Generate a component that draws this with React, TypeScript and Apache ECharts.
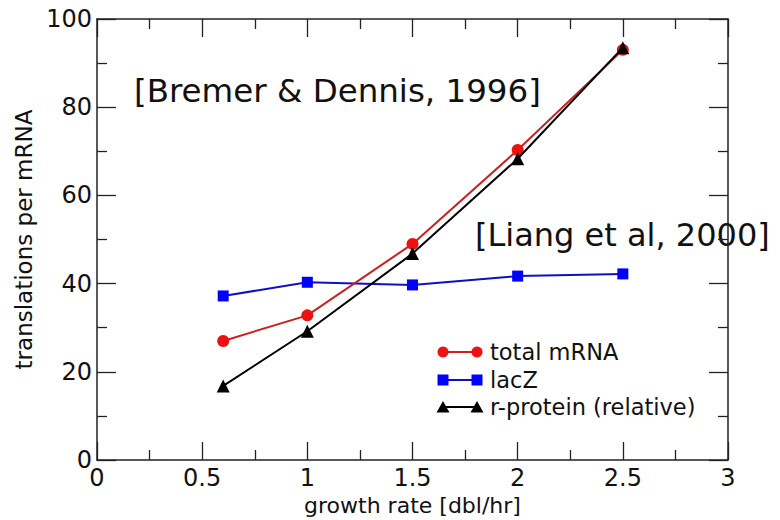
import React, { useEffect, useRef } from "react";
import * as echarts from "echarts";

const growthRate = [0.6, 1.0, 1.5, 2.0, 2.5];
const totalMRNA = [27, 32.8, 49, 70.3, 93];
const lacZ = [37.2, 40.3, 39.7, 41.7, 42.2];
const rProtein = [16.8, 29.2, 46.8, 68.3, 93.5];

const seriesNames = ["total mRNA", "lacZ", "r-protein (relative)"];
const annotations = ["[Bremer & Dennis, 1996]", "[Liang et al, 2000]"];
const xAxisName = "growth rate [dbl/hr]";
const yAxisName = "translations per mRNA";

const FONT = "DejaVu Sans";
const RED = "#ee1111";
const RED_LINE = "#cc1f1f";
const BLUE = "#0000ff";
const BLUE_LINE = "#1010c0";
const BLACK = "#000000";

const toPairs = (ys: number[]) => growthRate.map((x, i) => [x, ys[i]]);

export default function App() {
  const ref = useRef<HTMLDivElement>(null);

  useEffect(() => {
    if (!ref.current) return;
    const chart = echarts.init(ref.current, null, { renderer: "svg" });

    const axisLine = { show: true, onZero: false, lineStyle: { color: "#222", width: 1.5 } };
    const tick = (len: number) => ({ show: true, inside: true, length: len, lineStyle: { color: "#222", width: 1.3 } });
    const minor = { show: true, splitNumber: 2, length: 10, lineStyle: { color: "#222", width: 1.3 } };

    const legendRows = [352, 380, 407];
    const lx1 = 443;
    const lx2 = 477;

    const legendGraphics: any[] = [];
    legendGraphics.push({ type: "line", shape: { x1: lx1, y1: legendRows[0], x2: lx2, y2: legendRows[0] }, style: { stroke: RED_LINE, lineWidth: 2 } });
    [lx1, lx2].forEach((cx) => legendGraphics.push({ type: "circle", shape: { cx, cy: legendRows[0], r: 5.5 }, style: { fill: RED } }));
    legendGraphics.push({ type: "line", shape: { x1: lx1, y1: legendRows[1], x2: lx2, y2: legendRows[1] }, style: { stroke: BLUE_LINE, lineWidth: 2 } });
    [lx1, lx2].forEach((cx) => legendGraphics.push({ type: "rect", shape: { x: cx - 5.5, y: legendRows[1] - 5.5, width: 11, height: 11 }, style: { fill: BLUE } }));
    legendGraphics.push({ type: "line", shape: { x1: lx1, y1: legendRows[2], x2: lx2, y2: legendRows[2] }, style: { stroke: BLACK, lineWidth: 2 } });
    [lx1, lx2].forEach((cx) =>
      legendGraphics.push({
        type: "polygon",
        shape: { points: [[cx - 6.5, legendRows[2] + 5.5], [cx + 6.5, legendRows[2] + 5.5], [cx, legendRows[2] - 6]] },
        style: { fill: BLACK },
      })
    );
    seriesNames.forEach((n, i) =>
      legendGraphics.push({
        type: "text",
        x: 490,
        y: legendRows[i],
        style: { text: n, fontFamily: FONT, fontSize: 22.5, fill: "#111", align: "left", verticalAlign: "middle" },
      })
    );

    chart.setOption({
      animation: false,
      backgroundColor: "#ffffff",
      grid: { left: 97, right: 52, top: 19, bottom: 60, containLabel: false, outerBoundsMode: "none" },
      xAxis: [
        {
          type: "value",
          position: "bottom",
          min: 0,
          max: 3,
          interval: 0.5,
          name: xAxisName,
          nameLocation: "middle",
          nameGap: 33,
          nameTextStyle: { fontFamily: FONT, fontSize: 22, color: "#111" },
          axisLine,
          axisTick: tick(18),
          minorTick: minor,
          splitLine: { show: false },
          axisLabel: { fontFamily: FONT, fontSize: 24, color: "#111", margin: 6 },
        },
        {
          type: "value",
          position: "top",
          min: 0,
          max: 3,
          interval: 0.5,
          axisLine,
          axisTick: tick(18),
          minorTick: minor,
          splitLine: { show: false },
          axisLabel: { show: false },
        },
      ],
      yAxis: [
        {
          type: "value",
          position: "left",
          min: 0,
          max: 100,
          interval: 20,
          name: yAxisName,
          nameLocation: "middle",
          nameGap: 57,
          nameTextStyle: { fontFamily: FONT, fontSize: 23, color: "#111" },
          axisLine,
          axisTick: tick(19),
          minorTick: minor,
          splitLine: { show: false },
          axisLabel: { fontFamily: FONT, fontSize: 24, color: "#111", margin: 5 },
        },
        {
          type: "value",
          position: "right",
          min: 0,
          max: 100,
          interval: 20,
          axisLine,
          axisTick: tick(19),
          minorTick: minor,
          splitLine: { show: false },
          axisLabel: { show: false },
        },
      ],
      series: [
        {
          name: seriesNames[0],
          type: "line",
          xAxisIndex: 0,
          yAxisIndex: 0,
          data: toPairs(totalMRNA),
          symbol: "circle",
          symbolSize: 12,
          itemStyle: { color: RED },
          lineStyle: { color: RED_LINE, width: 2 },
          z: 3,
        },
        {
          name: seriesNames[1],
          type: "line",
          xAxisIndex: 0,
          yAxisIndex: 0,
          data: toPairs(lacZ),
          symbol: "rect",
          symbolSize: 11,
          itemStyle: { color: BLUE },
          lineStyle: { color: BLUE_LINE, width: 2 },
          z: 2,
        },
        {
          name: seriesNames[2],
          type: "line",
          xAxisIndex: 0,
          yAxisIndex: 0,
          data: toPairs(rProtein),
          symbol: "triangle",
          symbolSize: 13,
          itemStyle: { color: BLACK },
          lineStyle: { color: BLACK, width: 2 },
          z: 4,
        },
      ],
      graphic: [
        {
          type: "text",
          x: 134,
          y: 91,
          style: { text: annotations[0], fontFamily: FONT, fontSize: 32.5, fill: "#111", align: "left", verticalAlign: "middle" },
        },
        {
          type: "text",
          x: 475,
          y: 235,
          style: { text: annotations[1], fontFamily: FONT, fontSize: 32, fill: "#111", align: "left", verticalAlign: "middle" },
        },
        ...legendGraphics,
      ],
    });

    return () => chart.dispose();
  }, []);

  return (
    <div
      ref={ref}
      style={{ position: "fixed", left: 0, top: 0, width: 780, height: 520, background: "#fff" }}
    />
  );
}
